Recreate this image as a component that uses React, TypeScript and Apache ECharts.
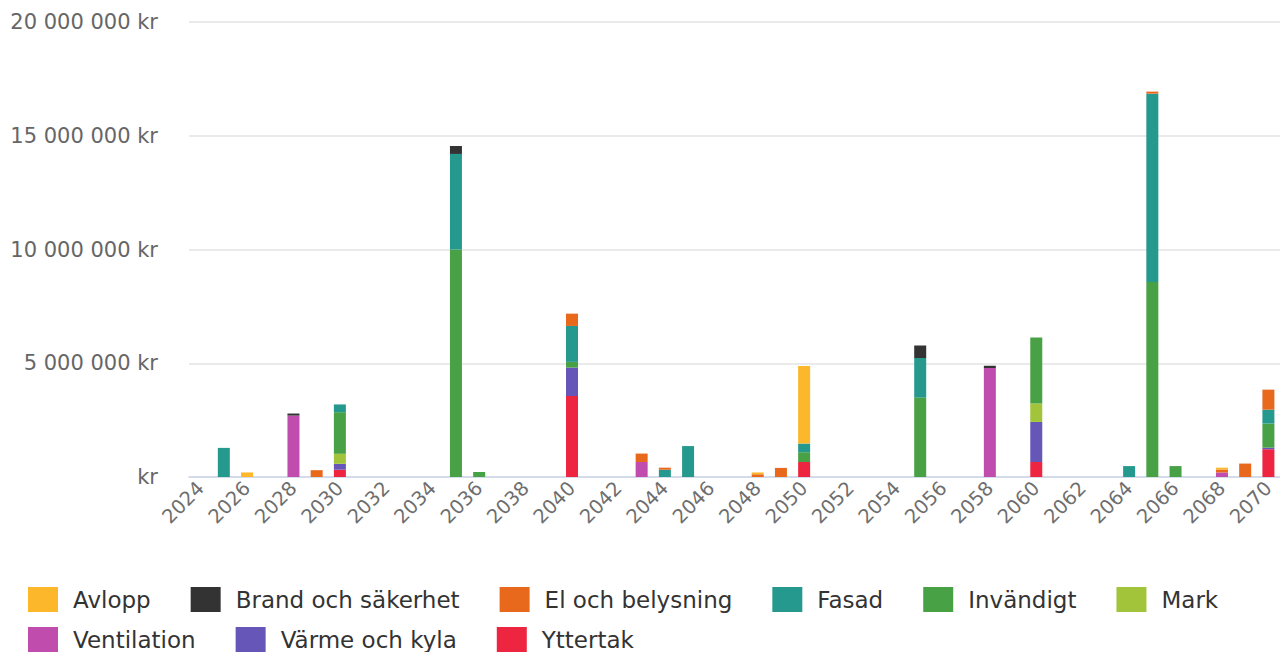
import React, { useEffect, useRef } from "react";
import * as echarts from "echarts";

const years = [
  "2024", "2025", "2026", "2027", "2028", "2029", "2030", "2031", "2032", "2033",
  "2034", "2035", "2036", "2037", "2038", "2039", "2040", "2041", "2042", "2043",
  "2044", "2045", "2046", "2047", "2048", "2049", "2050", "2051", "2052", "2053",
  "2054", "2055", "2056", "2057", "2058", "2059", "2060", "2061", "2062", "2063",
  "2064", "2065", "2066", "2067", "2068", "2069", "2070",
];

// Sparse values per category (kr), missing years = 0
const yttertak: Record<string, number> = { 2030: 320000, 2040: 3560000, 2050: 660000, 2060: 660000, 2070: 1220000 };
const varme: Record<string, number> = { 2030: 260000, 2040: 1250000, 2060: 1760000, 2070: 70000 };
const ventilation: Record<string, number> = { 2028: 2700000, 2043: 660000, 2058: 4790000, 2068: 200000 };
const mark: Record<string, number> = { 2030: 440000, 2060: 810000 };
const invandigt: Record<string, number> = {
  2030: 1830000, 2035: 10000000, 2036: 220000, 2040: 250000, 2050: 430000,
  2055: 3490000, 2060: 2900000, 2065: 8570000, 2066: 480000, 2070: 1060000,
};
const fasad: Record<string, number> = {
  2025: 1280000, 2030: 340000, 2035: 4200000, 2040: 1580000, 2044: 320000, 2045: 1360000,
  2050: 380000, 2055: 1740000, 2064: 480000, 2065: 8280000, 2070: 610000,
};
const el: Record<string, number> = {
  2029: 300000, 2040: 540000, 2043: 370000, 2044: 90000, 2048: 120000, 2049: 400000,
  2065: 90000, 2068: 130000, 2069: 590000, 2070: 880000,
};
const brand: Record<string, number> = { 2028: 90000, 2035: 350000, 2055: 550000, 2058: 100000 };
const avlopp: Record<string, number> = { 2026: 200000, 2048: 80000, 2050: 3410000, 2068: 80000 };

const yTicks = { min: 0, max: 20000000, interval: 5000000 };

// stacking order bottom -> top
const seriesDefs: { name: string; color: string; values: Record<string, number> }[] = [
  { name: "Yttertak", color: "#EE2540", values: yttertak },
  { name: "Värme och kyla", color: "#6656B8", values: varme },
  { name: "Ventilation", color: "#C04CAE", values: ventilation },
  { name: "Mark", color: "#A2C43A", values: mark },
  { name: "Invändigt", color: "#49A146", values: invandigt },
  { name: "Fasad", color: "#26998F", values: fasad },
  { name: "El och belysning", color: "#E8681C", values: el },
  { name: "Brand och säkerhet", color: "#333333", values: brand },
  { name: "Avlopp", color: "#FDB72A", values: avlopp },
];

const legendRows: string[][] = [
  ["Avlopp", "Brand och säkerhet", "El och belysning", "Fasad", "Invändigt", "Mark"],
  ["Ventilation", "Värme och kyla", "Yttertak"],
];

const FONT = "DejaVu Sans";

function fmt(v: number): string {
  if (v === 0) return "kr";
  return String(v).replace(/\B(?=(\d{3})+(?!\d))/g, " ") + " kr";
}

export default function App() {
  const ref = useRef<HTMLDivElement>(null);
  useEffect(() => {
    if (!ref.current) return;
    const chart = echarts.init(ref.current, null, { renderer: "svg" });
    chart.setOption({
      animation: false,
      backgroundColor: "#ffffff",
      textStyle: { fontFamily: FONT },
      grid: { left: 189, right: 0, top: 22, bottom: 175, containLabel: false, outerBoundsMode: "none" },
      legend: legendRows.map((row, i) => ({
        left: 28,
        top: 587 + i * 40,
        orient: "horizontal",
        itemGap: 40,
        itemWidth: 30,
        itemHeight: 25,
        icon: "rect",
        padding: 0,
        data: row,
        textStyle: { fontFamily: FONT, fontSize: 23, color: "#333333", padding: [0, 0, 0, 10] },
      })),
      xAxis: {
        type: "category",
        data: years,
        axisLine: { lineStyle: { color: "#ccd6eb", width: 1.5 } },
        axisTick: { alignWithLabel: true, interval: 1, length: 16, lineStyle: { color: "#ccd6eb", width: 1.5 } },
        axisLabel: { interval: 1, rotate: 45, margin: 8, fontSize: 19.5, color: "#6e6e6e", fontFamily: FONT },
      },
      yAxis: {
        type: "value",
        min: yTicks.min,
        max: yTicks.max,
        interval: yTicks.interval,
        axisLine: { show: false },
        axisTick: { show: false },
        splitLine: { lineStyle: { color: "#e3e3e3", width: 1.5 } },
        axisLabel: { margin: 31, fontSize: 21, color: "#666666", fontFamily: FONT, formatter: fmt },
      },
      series: seriesDefs.map((s) => ({
        name: s.name,
        type: "bar",
        stack: "total",
        barWidth: 12,
        itemStyle: { color: s.color },
        data: years.map((y) => s.values[y] ?? 0),
      })),
    });
    return () => chart.dispose();
  }, []);
  return (
    <div
      ref={ref}
      style={{ position: "absolute", left: 0, top: 0, width: 1280, height: 652 }}
    />
  );
}
